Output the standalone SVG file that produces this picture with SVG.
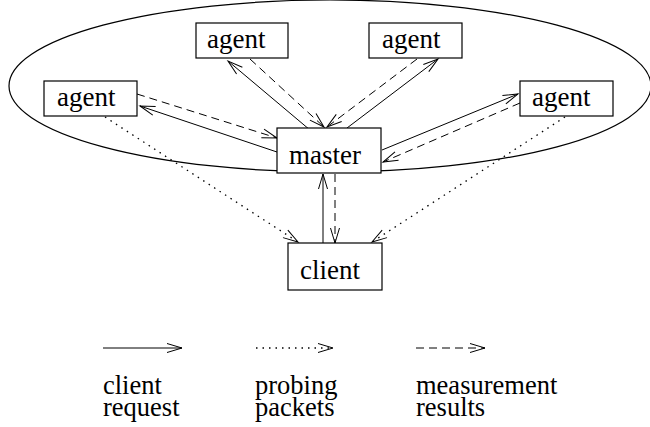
<svg xmlns="http://www.w3.org/2000/svg" width="650" height="427" viewBox="0 0 650 427">
<style>
.box{fill:#fff;stroke:#000;stroke-width:1.2}
.lbl{font-family:"Liberation Serif","Times New Roman",serif;font-size:27px;fill:#000}
.leg{font-family:"Liberation Serif","Times New Roman",serif;font-size:26.5px;fill:#000}
.c{fill:none;stroke:#000;stroke-width:1}
.solid{marker-end:url(#ah)}
.dash{stroke-dasharray:8,5;marker-end:url(#ah)}
.dot{stroke-dasharray:1.5,5;stroke-width:1.3;marker-end:url(#ah)}
</style>
<defs>
<marker id="ah" markerUnits="userSpaceOnUse" markerWidth="18" markerHeight="12" refX="16" refY="5.5" orient="auto" viewBox="0 0 18 12">
<path d="M1,1 L16,5.5 L1,10" fill="none" stroke="#000" stroke-width="1"/>
</marker>
</defs>
<rect width="650" height="427" fill="#fff"/>
<ellipse cx="330" cy="86" rx="321" ry="86" fill="none" stroke="#000" stroke-width="1.2"/>
<g id="connectors">
<line class="c solid" x1="277" y1="152" x2="140" y2="106"/>
<line class="c dash" x1="137" y1="94" x2="277" y2="138"/>
<line class="c solid" x1="310" y1="130" x2="228" y2="61"/>
<line class="c dash" x1="250" y1="59" x2="324" y2="127"/>
<line class="c solid" x1="347" y1="128" x2="438" y2="59"/>
<line class="c dash" x1="417" y1="59" x2="327" y2="127"/>
<line class="c solid" x1="382" y1="150" x2="518" y2="94"/>
<line class="c dash" x1="520" y1="103" x2="383" y2="162"/>
<line class="c solid" x1="323" y1="243" x2="323" y2="174"/>
<line class="c dash" x1="335" y1="174" x2="335" y2="243"/>
<line class="c dot" x1="105" y1="117" x2="298" y2="242"/>
<line class="c dot" x1="565" y1="117" x2="372" y2="242"/>
</g>
<g id="agent-top-left"><rect class="box" x="196" y="23" width="92" height="35"/><text class="lbl" x="207" y="48">agent</text></g>
<g id="agent-top-right"><rect class="box" x="369" y="23" width="93" height="35"/><text class="lbl" x="382" y="48">agent</text></g>
<g id="agent-left"><rect class="box" x="44" y="81" width="93" height="35"/><text class="lbl" x="57" y="106">agent</text></g>
<g id="agent-right"><rect class="box" x="520" y="81" width="93" height="35"/><text class="lbl" x="532" y="106">agent</text></g>
<g id="master"><rect class="box" x="277" y="128" width="104" height="45"/><text class="lbl" x="289" y="164">master</text></g>
<g id="client"><rect class="box" x="288" y="243" width="94" height="47"/><text class="lbl" x="300" y="279">client</text></g>
<g id="legend">
<line class="c solid" x1="103" y1="348" x2="182" y2="348"/>
<line class="c dot" x1="256" y1="348" x2="333" y2="348"/>
<line class="c dash" x1="416" y1="348" x2="485" y2="348"/>
<text class="leg" x="103" y="394">client</text>
<text class="leg" x="103" y="416">request</text>
<text class="leg" x="255" y="394">probing</text>
<text class="leg" x="255" y="416">packets</text>
<text class="leg" x="416" y="394">measurement</text>
<text class="leg" x="416" y="416">results</text>
</g>
</svg>
